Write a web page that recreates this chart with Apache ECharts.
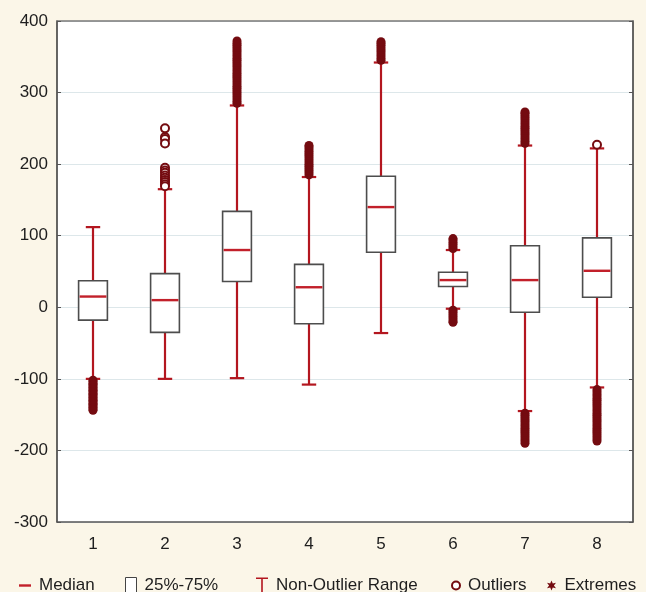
<!DOCTYPE html>
<html>
<head>
<meta charset="utf-8">
<script src="https://cdn.jsdelivr.net/npm/echarts@6/dist/echarts.min.js"></script>
<style>
  html, body { margin: 0; padding: 0; background: #fbf6e8; }
  #chart { width: 646px; height: 592px; }
</style>
</head>
<body>
<div id="chart"></div>
<script>
// Group labels along the x axis
const categories = ['1', '2', '3', '4', '5', '6', '7', '8'];
// Box statistics per group
const q1 = [-18, -35, 36, -23, 77, 29, -7, 14];
const median = [15, 10, 80, 28, 140, 38, 38, 51];
const q3 = [37, 47, 134, 60, 183, 49, 86, 97];
// Non-outlier range (whisker ends)
const whiskerLow = [-100, -100, -99, -108, -36, -2, -145, -112];
const whiskerHigh = [112, 165, 282, 182, 342, 80, 226, 222];
// Outlying points per group
const outlierGroups = [
  [],
  [250, 238, 235, 229, 195, 191, 188, 184, 181, 178, 175, 172, 169],
  [], [], [], [], [],
  [227]
];
// Extreme points per group
const extremeGroups = [
  [-102, -104, -106, -108, -110, -112, -114, -116, -118, -120, -122, -124, -126, -128, -130, -132, -134, -136, -138, -140, -142, -144],
  [],
  [285, 288, 291, 294, 297, 300, 303, 306, 309, 312, 315, 318, 321, 324, 327, 330, 333, 336, 339, 342, 345, 348, 351, 354, 357, 360, 363, 366, 369, 372],
  [185, 188, 191, 194, 197, 200, 203, 206, 209, 212, 215, 218, 221, 224, 226],
  [345, 348, 351, 354, 357, 360, 363, 366, 369, 371],
  [82, 85, 88, 91, 94, 96, -4, -7, -10, -13, -16, -19, -21],
  [229, 232, 235, 238, 241, 244, 247, 250, 253, 256, 259, 262, 265, 268, 271, 273,
   -148, -151, -154, -157, -160, -163, -166, -169, -172, -175, -178, -181, -184, -187, -190],
  [-115, -118, -121, -124, -127, -130, -133, -136, -139, -142, -145, -148, -151, -154, -157, -160, -163, -166, -169, -172, -175, -178, -181, -184, -187]
];
// Y axis range
const yMin = -300, yMax = 400, yStep = 100;

const WHISKER = '#b3161f';
const MEDIAN = '#c2202a';
const DARK = '#740b10';
const BOX_EDGE = '#4d4d4d';

const starPath = 'path://M5,0 L6.3,3 L9.5,2.3 L7.4,5 L9.5,7.7 L6.3,7 L5,10 L3.7,7 L0.5,7.7 L2.6,5 L0.5,2.3 L3.7,3 Z';
const iBeamPath = 'path://M0,0 H12 V1.6 H6.8 V14.4 H12 V16 H0 V14.4 H5.2 V1.6 H0 Z';
const dashPath = 'path://M0,0 H12 V2.4 H0 Z';

const whiskerData = categories.map((c, i) => [i, whiskerLow[i], whiskerHigh[i]]);
const boxData = categories.map((c, i) => [i, q1[i], q3[i]]);
const medianData = categories.map((c, i) => [i, median[i]]);
const outlierData = [];
outlierGroups.forEach((vals, i) => vals.forEach(v => outlierData.push([i, v])));
const extremeData = [];
extremeGroups.forEach((vals, i) => vals.forEach(v => extremeData.push([i, v])));

const legendFont = { fontFamily: 'Liberation Sans, Arial, sans-serif', fontSize: 17, color: '#1e1e1e' };
function legendAt(left, name, icon, w, h, itemStyle) {
  return {
    left: left, top: 572, itemWidth: w, itemHeight: h, itemGap: 0,
    textStyle: Object.assign({ padding: [0, 0, 0, 3] }, legendFont),
    selectedMode: false,
    data: [{ name: name, icon: icon, itemStyle: itemStyle }]
  };
}

const chart = echarts.init(document.getElementById('chart'), null, { renderer: 'canvas' });
chart.setOption({
  backgroundColor: '#fbf6e8',
  animation: false,
  grid: { left: 57, right: 13, top: 21, bottom: 70, backgroundColor: '#ffffff', show: true, borderWidth: 0 },
  legend: [
    legendAt(14, 'Median', dashPath, 12, 2.4, { color: MEDIAN }),
    legendAt(120, '25%-75%', 'rect', 11, 16, { color: '#ffffff', borderColor: '#444', borderWidth: 1 }),
    legendAt(251, 'Non-Outlier Range', iBeamPath, 12, 16, { color: WHISKER }),
    legendAt(446, 'Outliers', 'circle', 8, 8, { color: '#ffffff', borderColor: DARK, borderWidth: 2 }),
    legendAt(542, 'Extremes', starPath, 10, 10, { color: DARK })
  ],
  xAxis: [{
    type: 'category', data: categories, position: 'bottom',
    axisLine: { onZero: false, lineStyle: { color: '#555', width: 1.5 } },
    axisTick: { inside: true, length: 4, alignWithLabel: true, lineStyle: { color: '#555' } },
    axisLabel: { margin: 14, fontFamily: 'Liberation Sans, Arial, sans-serif', fontSize: 17, color: '#1e1e1e' },
    splitLine: { show: false }
  }, {
    type: 'category', data: categories, position: 'top',
    axisLine: { onZero: false, lineStyle: { color: '#7a7a7a', width: 1.5 } },
    axisTick: { inside: true, length: 4, alignWithLabel: true, lineStyle: { color: '#666' } },
    axisLabel: { show: false }, splitLine: { show: false }
  }],
  yAxis: [{
    type: 'value', min: yMin, max: yMax, interval: yStep, position: 'left',
    axisLine: { show: true, onZero: false, lineStyle: { color: '#333', width: 1.5 } },
    axisTick: { show: true, inside: true, length: 4, lineStyle: { color: '#555' } },
    axisLabel: { margin: 9, fontFamily: 'Liberation Sans, Arial, sans-serif', fontSize: 17, color: '#1e1e1e' },
    splitLine: { show: true, lineStyle: { color: '#dde7ea', width: 1 } }
  }, {
    type: 'value', min: yMin, max: yMax, interval: yStep, position: 'right',
    axisLine: { show: true, onZero: false, lineStyle: { color: '#333', width: 1.5 } },
    axisTick: { show: true, inside: true, length: 4, lineStyle: { color: '#555' } },
    axisLabel: { show: false }, splitLine: { show: false }
  }],
  series: [
    {
      name: 'Non-Outlier Range', type: 'custom', data: whiskerData, z: 2,
      encode: { x: 0, y: [1, 2] },
      renderItem: function (params, api) {
        const x = api.value(0);
        const lo = api.coord([x, api.value(1)]);
        const hi = api.coord([x, api.value(2)]);
        const cap = api.size([1, 0])[0] * 0.2;
        const st = { stroke: WHISKER, lineWidth: 2.2 };
        return {
          type: 'group', children: [
            { type: 'line', shape: { x1: lo[0], y1: lo[1], x2: hi[0], y2: hi[1] }, style: st },
            { type: 'line', shape: { x1: hi[0] - cap / 2, y1: hi[1], x2: hi[0] + cap / 2, y2: hi[1] }, style: st },
            { type: 'line', shape: { x1: lo[0] - cap / 2, y1: lo[1], x2: lo[0] + cap / 2, y2: lo[1] }, style: st }
          ]
        };
      }
    },
    {
      name: '25%-75%', type: 'custom', data: boxData, z: 3,
      encode: { x: 0, y: [1, 2] },
      renderItem: function (params, api) {
        const x = api.value(0);
        const a = api.coord([x, api.value(1)]);
        const b = api.coord([x, api.value(2)]);
        const w = api.size([1, 0])[0] * 0.4;
        return {
          type: 'rect',
          shape: { x: a[0] - w / 2, y: b[1], width: w, height: a[1] - b[1] },
          style: { fill: '#ffffff', stroke: BOX_EDGE, lineWidth: 1.6 }
        };
      }
    },
    {
      name: 'Median', type: 'custom', data: medianData, z: 4,
      encode: { x: 0, y: 1 },
      renderItem: function (params, api) {
        const p = api.coord([api.value(0), api.value(1)]);
        const w = api.size([1, 0])[0] * 0.4;
        return {
          type: 'line',
          shape: { x1: p[0] - w / 2 + 1, y1: p[1], x2: p[0] + w / 2 - 1, y2: p[1] },
          style: { stroke: MEDIAN, lineWidth: 2.4 }
        };
      }
    },
    {
      name: 'Outliers', type: 'scatter', data: outlierData, z: 5,
      symbol: 'circle', symbolSize: 8,
      itemStyle: { color: '#ffffff', borderColor: DARK, borderWidth: 2, opacity: 1 }
    },
    {
      name: 'Extremes', type: 'scatter', data: extremeData, z: 5,
      symbol: 'circle', symbolSize: 9,
      itemStyle: { color: DARK, opacity: 1 }
    }
  ]
});
</script>
</body>
</html>
